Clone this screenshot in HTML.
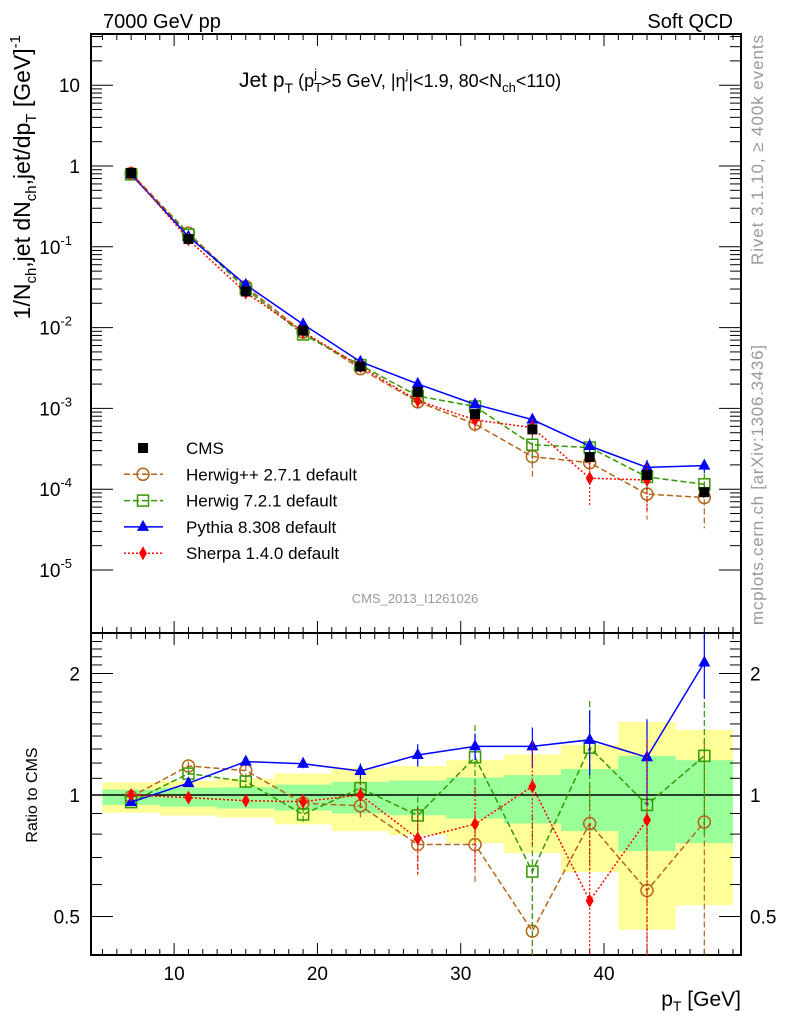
<!DOCTYPE html>
<html><head><meta charset="utf-8"><style>
body{margin:0;background:#fff}
svg{display:block;font-family:"Liberation Sans",sans-serif}
</style></head><body>
<svg id="chart" width="786" height="1024" viewBox="0 0 786 1024" xmlns="http://www.w3.org/2000/svg">
<g id="bands"></g>
<g id="axes"></g>
<g id="series"></g>
<text x="103" y="28" font-size="20">7000 GeV pp</text>
<text x="733" y="28" font-size="20" text-anchor="end">Soft QCD</text>
<text x="239" y="87" font-size="21">Jet p<tspan font-size="14" dy="6">T</tspan><tspan dy="-6" font-size="18"> (p</tspan><tspan font-size="13" dy="5">T</tspan><tspan font-size="13" dx="-8" dy="-14">j</tspan><tspan font-size="18" dx="4" dy="9">&gt;5 GeV, |η</tspan><tspan font-size="13" dy="-8">j</tspan><tspan font-size="18" dy="8">|&lt;1.9, 80&lt;N</tspan><tspan font-size="13" dy="5">ch</tspan><tspan font-size="18" dy="-5">&lt;110)</tspan></text>
<text transform="translate(30,35) rotate(-90)" font-size="23" text-anchor="end">1/N<tspan font-size="15" dy="6">ch</tspan><tspan dy="-6">,jet dN</tspan><tspan font-size="15" dy="6">ch</tspan><tspan dy="-6">,jet/dp</tspan><tspan font-size="15" dy="6">T</tspan><tspan dy="-6"> [GeV]</tspan><tspan font-size="15" dy="-10">-1</tspan></text>
<text transform="translate(37,795) rotate(-90)" font-size="16" text-anchor="middle">Ratio to CMS</text>
<text transform="translate(763,35) rotate(-90)" font-size="17" fill="#999" text-anchor="end" textLength="230">Rivet 3.1.10, ≥ 400k events</text>
<text transform="translate(763,625) rotate(-90)" font-size="17" fill="#999" text-anchor="start" textLength="280">mcplots.cern.ch [arXiv:1306.3436]</text>
<text x="415" y="603" font-size="13" fill="#999" text-anchor="middle">CMS_2013_I1261026</text>
<text x="741" y="1006" font-size="21" text-anchor="end">p<tspan font-size="14" dy="5">T</tspan><tspan dy="-5"> [GeV]</tspan></text>
<g id="legend"></g>
</svg>
<script>
const xs=[7,11,15,19,23,27,31,35,39,43,47];
const cms=[0.82,0.125,0.028,0.0092,0.0033,0.0016,0.00085,0.00055,0.00025,0.00015,0.000092];
const ratioHerwigpp=[0.99,1.18,1.15,0.955,0.94,0.754,0.754,0.46,0.85,0.58,0.857];
const ratioHerwig7=[0.96,1.13,1.08,0.895,1.04,0.89,1.24,0.646,1.31,0.945,1.25];
const ratioPythia=[0.96,1.07,1.21,1.195,1.147,1.256,1.32,1.32,1.37,1.24,2.13];
const ratioSherpa=[1.0,0.985,0.968,0.963,1.0,0.78,0.847,1.05,0.547,0.867,null];
const errHerwigpp=[0.02,0.03,0.04,0.05,0.07,0.12,0.15,0.2,0.2,0.3,0.5];
const errHerwig7=[0.02,0.03,0.04,0.04,0.06,0.1,0.25,0.25,0.4,0.3,0.45];
const errPythia=[0.02,0.02,0.03,0.03,0.05,0.08,0.1,0.15,0.25,0.3,0.4];
const errSherpa=[0.02,0.02,0.03,0.04,0.07,0.15,0.2,0.3,0.3,0.5,0];
const binLo=[5,9,13,17,21,25,29,33,37,41,45];
const binHi=[9,13,17,21,25,29,33,37,41,45,49];
const yellowLo=[0.904,0.89,0.879,0.846,0.814,0.796,0.76,0.718,0.645,0.464,0.533];
const yellowHi=[1.074,1.084,1.099,1.13,1.166,1.18,1.22,1.26,1.33,1.516,1.45];
const greenLo=[0.945,0.935,0.926,0.915,0.9,0.891,0.874,0.85,0.814,0.727,0.76];
const greenHi=[1.031,1.043,1.045,1.061,1.078,1.086,1.105,1.12,1.16,1.25,1.22];
const xTicks=[10,20,30,40];
const yDecades=[-5,-4,-3,-2,-1,0,1];
const yLabels=["10","10","10","10","10","1","10"];
const yExps=["-5","-4","-3","-2","-1","",""];
const rTicks=[0.5,1,2];

const L=91,R=741,T=34,M=633,B=955;
const X=v=>L+(v-4.2)*14.33;
const Y=v=>166-80.8*Math.log10(v);
const RY=r=>795-121.5*Math.log2(r);
const NS="http://www.w3.org/2000/svg";
function mk(tag,attrs,parent){const e=document.createElementNS(NS,tag);for(const k in attrs)e.setAttribute(k,attrs[k]);parent.appendChild(e);return e;}
const bandsG=document.getElementById('bands'),axG=document.getElementById('axes'),serG=document.getElementById('series'),legG=document.getElementById('legend');

for(let i=0;i<binLo.length;i++){
  let e=mk('rect',{x:X(binLo[i]),y:RY(yellowHi[i]),width:X(binHi[i])-X(binLo[i]),height:RY(yellowLo[i])-RY(yellowHi[i]),fill:'#ffff99'},bandsG);
  
  
  e=mk('rect',{x:X(binLo[i]),y:RY(greenHi[i]),width:X(binHi[i])-X(binLo[i]),height:RY(greenLo[i])-RY(greenHi[i]),fill:'#99ff99'},bandsG);
  
  
}
let f=mk('rect',{x:L,y:T,width:R-L,height:M-T,fill:'none',stroke:'#000','stroke-width':2},axG);

f=mk('rect',{x:L,y:M,width:R-L,height:B-M,fill:'none',stroke:'#000','stroke-width':2},axG);

let one=mk('line',{x1:L,x2:R,y1:RY(1),y2:RY(1),stroke:'#000','stroke-width':1.5},axG);

for(let v=5;v<=49;v++){
  const maj=v%10===0,len=maj?12:6,x=X(v);
  [[T,1],[M,-1],[M,1],[B,-1]].forEach(([y0,d])=>mk('line',{x1:x,x2:x,y1:y0,y2:y0+d*len,stroke:'#000','stroke-width':1},axG));
}
xTicks.forEach(v=>{const t=mk('text',{x:X(v),y:980,'font-size':19,'text-anchor':'middle'},axG);t.textContent=v;
  });
yDecades.forEach((d,i)=>{
  const y=Y(Math.pow(10,d));
  mk('line',{x1:L,x2:L+22,y1:y,y2:y,stroke:'#000'},axG);mk('line',{x1:R,x2:R-22,y1:y,y2:y,stroke:'#000'},axG);
  for(let m=2;m<=9;m++){const ym=Y(m*Math.pow(10,d));if(ym>T&&ym<M){mk('line',{x1:L,x2:L+11,y1:ym,y2:ym,stroke:'#000'},axG);mk('line',{x1:R,x2:R-11,y1:ym,y2:ym,stroke:'#000'},axG);}}
  const t=mk('text',{x:yExps[i]?72:80,y:y+7,'font-size':19,'text-anchor':'end'},axG);
  t.textContent=yLabels[i];
  if(yExps[i]){const s=mk('tspan',{dy:-9,'font-size':13},t);s.textContent=yExps[i];}
  
});
for(let r=0.4;r<=2.5;r+=0.1){const y=RY(r);if(y>M&&y<B){const maj=rTicks.some(t=>Math.abs(t-r)<1e-6);const len=maj?22:11;
  mk('line',{x1:L,x2:L+len,y1:y,y2:y,stroke:'#000'},axG);mk('line',{x1:R,x2:R-len,y1:y,y2:y,stroke:'#000'},axG);}}
rTicks.forEach(r=>{[[80,'end'],[750,'start']].forEach(([x,a])=>{const t=mk('text',{x:x,y:RY(r)+7,'font-size':19,'text-anchor':a},axG);t.textContent=r;
  });});

function marker(type,color,x,y,g){
  if(type==='sq')return mk('rect',{x:x-5,y:y-5,width:10,height:10,fill:'#000'},g);
  if(type==='osq')return mk('rect',{x:x-5.5,y:y-5.5,width:11,height:11,fill:'none',stroke:color,'stroke-width':1.5},g);
  if(type==='circ')return mk('circle',{cx:x,cy:y,r:6,fill:'none',stroke:color,'stroke-width':1.5},g);
  if(type==='tri')return mk('polygon',{points:`${x},${y-7} ${x-6},${y+4} ${x+6},${y+4}`,fill:color},g);
  if(type==='dia')return mk('polygon',{points:`${x},${y-7} ${x-4},${y} ${x},${y+7} ${x+4},${y}`,fill:color},g);
}
const models=[
 {name:'herwigpp',label:'Herwig++ 2.7.1 default',r:ratioHerwigpp,e:errHerwigpp,c:'#b3661a',m:'circ',dash:'6,3'},
 {name:'herwig7',label:'Herwig 7.2.1 default',r:ratioHerwig7,e:errHerwig7,c:'#339900',m:'osq',dash:'6,3'},
 {name:'pythia',label:'Pythia 8.308 default',r:ratioPythia,e:errPythia,c:'#0000ff',m:'tri',dash:''},
 {name:'sherpa',label:'Sherpa 1.4.0 default',r:ratioSherpa,e:errSherpa,c:'#ff0000',m:'dia',dash:'2,2'}];
const clipM=v=>Math.max(T,Math.min(M,v)),clipR=v=>Math.max(M,Math.min(B,v));
models.forEach(md=>{
  const g=mk('g',{},serG);
  
  let pm=[],pr=[];
  xs.forEach((x,i)=>{const r=md.r[i];if(r==null)return;
    const v=cms[i]*r,px=X(x);
    pm.push(px+','+Y(v));pr.push(px+','+RY(r));
    const e=md.e[i];
    if(e>0){
      mk('line',{x1:px,x2:px,y1:clipM(Y(v*(1+e/r))),y2:clipM(Y(v*Math.max(0.01,1-e/r))),stroke:md.c,'stroke-width':1.2,'stroke-dasharray':md.dash},g);
      const lo=r-e;const y2=lo>0?RY(lo):B;
      mk('line',{x1:px,x2:px,y1:clipR(RY(r+e)),y2:clipR(y2),stroke:md.c,'stroke-width':1.2,'stroke-dasharray':md.dash},g);
    }
  });
  mk('polyline',{points:pm.join(' '),fill:'none',stroke:md.c,'stroke-width':1.5,'stroke-dasharray':md.dash},g);
  mk('polyline',{points:pr.join(' '),fill:'none',stroke:md.c,'stroke-width':1.5,'stroke-dasharray':md.dash},g);
  xs.forEach((x,i)=>{const r=md.r[i];if(r==null)return;
    let p=marker(md.m,md.c,X(x),Y(cms[i]*r),g);
    
    p=marker(md.m,md.c,X(x),RY(r),g);
    
  });
});
const cg=mk('g',{},serG);

xs.forEach((x,i)=>{const p=marker('sq','#000',X(x),Y(cms[i]),cg);
  });
const rows=[{label:'CMS',m:'sq',c:'#000',dash:null}].concat(models.map(m=>({label:m.label,m:m.m,c:m.c,dash:m.dash})));
rows.forEach((r,i)=>{
  const y=448+i*26.3;
  const g=mk('g',{},legG);
  
  if(r.dash!==null)mk('line',{x1:124,x2:163,y1:y,y2:y,stroke:r.c,'stroke-width':1.5,'stroke-dasharray':r.dash},g);
  marker(r.m,r.c,143,y,g);
  const t=mk('text',{x:186,y:y+6,'font-size':17},g);t.textContent=r.label;
});
</script>
</body></html>
